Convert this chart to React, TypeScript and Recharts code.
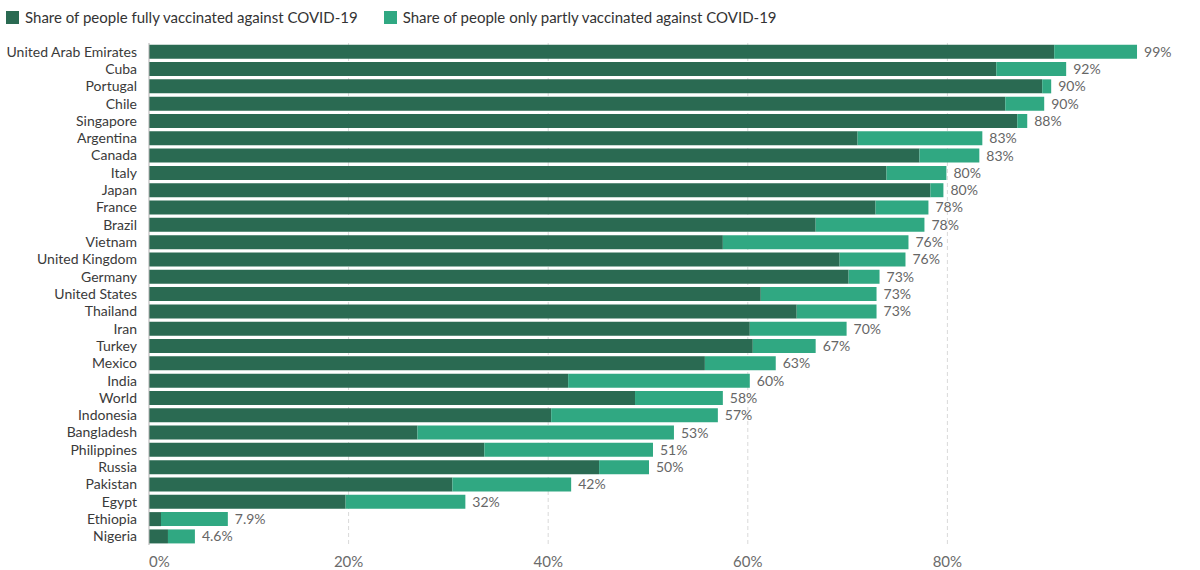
import React from 'react';
import {
  BarChart,
  Bar,
  XAxis,
  YAxis,
  CartesianGrid,
  LabelList,
} from 'recharts';

const countries = [
  'United Arab Emirates', 'Cuba', 'Portugal', 'Chile', 'Singapore', 'Argentina',
  'Canada', 'Italy', 'Japan', 'France', 'Brazil', 'Vietnam', 'United Kingdom',
  'Germany', 'United States', 'Thailand', 'Iran', 'Turkey', 'Mexico', 'India',
  'World', 'Indonesia', 'Bangladesh', 'Philippines', 'Russia', 'Pakistan',
  'Egypt', 'Ethiopia', 'Nigeria',
];

const fully = [
  90.7, 84.9, 89.5, 85.8, 87.0, 71.0, 77.2, 73.9, 78.3, 72.8, 66.8, 57.5, 69.2,
  70.1, 61.3, 64.9, 60.2, 60.5, 55.7, 42.0, 48.7, 40.3, 26.9, 33.6, 45.1, 30.4,
  19.7, 1.2, 1.9,
];

const partly = [
  8.3, 7.0, 0.9, 3.9, 1.0, 12.5, 6.0, 6.0, 1.3, 5.3, 10.9, 18.6, 6.6,
  3.1, 11.6, 8.0, 9.7, 6.3, 7.1, 18.2, 8.8, 16.7, 25.7, 16.9, 5.0, 11.9,
  12.0, 6.7, 2.7,
];

const totalLabels = [
  '99%', '92%', '90%', '90%', '88%', '83%', '83%', '80%', '80%', '78%', '78%',
  '76%', '76%', '73%', '73%', '73%', '70%', '67%', '63%', '60%', '58%', '57%',
  '53%', '51%', '50%', '42%', '32%', '7.9%', '4.6%',
];

const xTicks = [0, 20, 40, 60, 80];

const DARK = '#2a6a52';
const LIGHT = '#30a882';
const FONT = 'Lato, "Noto Sans", sans-serif';

const data = countries.map((name, i) => ({
  name,
  fully: fully[i],
  partly: partly[i],
  label: totalLabels[i],
}));

const XTick = (props: any) => {
  const { x, y, payload } = props;
  return (
    <text
      x={x}
      y={y + 14}
      textAnchor={payload.value === 0 ? 'start' : 'middle'}
      fill="#6b6b6b"
      fontSize={15}
      fontFamily={FONT}
    >
      {payload.value}%
    </text>
  );
};

const LegendItem = ({ color, text }: { color: string; text: string }) => (
  <div style={{ display: 'flex', alignItems: 'center', marginRight: 26 }}>
    <span
      style={{
        display: 'inline-block',
        width: 13,
        height: 13,
        background: color,
        marginRight: 6,
      }}
    />
    <span>{text}</span>
  </div>
);

export default function App() {
  return (
    <div style={{ position: 'absolute', left: 0, top: 0, width: 1200, height: 570, background: '#fff' }}>
      <div
        style={{
          position: 'absolute',
          left: 6,
          top: 8,
          display: 'flex',
          fontFamily: FONT,
          fontSize: 15,
          color: '#333',
        }}
      >
        <LegendItem color={DARK} text="Share of people fully vaccinated against COVID-19" />
        <LegendItem color={LIGHT} text="Share of people only partly vaccinated against COVID-19" />
      </div>
      <div style={{ position: 'absolute', left: 0, top: 0 }}>
        <BarChart
          width={1200}
          height={570}
          data={data}
          layout="vertical"
          margin={{ top: 43, right: 53, bottom: 0, left: 0 }}
          barCategoryGap="10%"
        >
          <CartesianGrid
            horizontal={false}
            stroke="#d9d9d9"
            strokeDasharray="4 3"
            verticalValues={[20, 40, 60, 80]}
          />
          <XAxis
            type="number"
            domain={[0, 100]}
            ticks={xTicks}
            axisLine={false}
            tickLine={false}
            height={25}
            tick={<XTick />}
          />
          <YAxis
            type="category"
            dataKey="name"
            width={149}
            axisLine={{ stroke: '#b0b0b0' }}
            tickLine={false}
            tickMargin={6}
            interval={0}
            tick={{ fill: '#3a3a3a', fontSize: 14, fontFamily: FONT }}
          />
          <Bar dataKey="fully" stackId="a" fill={DARK} isAnimationActive={false} />
          <Bar dataKey="partly" stackId="a" fill={LIGHT} isAnimationActive={false}>
            <LabelList
              dataKey="label"
              position="right"
              offset={7}
              fill="#666"
              fontSize={14}
              fontFamily={FONT}
            />
          </Bar>
        </BarChart>
      </div>
    </div>
  );
}
